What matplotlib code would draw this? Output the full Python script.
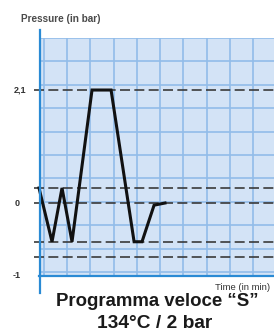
import numpy as np
import matplotlib.pyplot as plt
import matplotlib.transforms as mtransforms
from matplotlib.lines import Line2D

# pressure cycle (time in grid cells, pressure in bar)
time = [0, 0.56, 0.99, 1.42, 2.28, 3.10, 4.09, 4.43, 4.95, 5.42]
pressure = [0.28, -0.72, 0.28, -0.72, 2.1, 2.1, -0.72, -0.72, -0.04, 0.0]

# dashed reference levels
levels = [2.1, 0.28, 0, -0.72, -1.0]
tick_vals = [2.1, 0, -1]
tick_labels = ['2,1', '0', '-1']

W, H = 274, 334
fig = plt.figure(figsize=(W / 100, H / 100), dpi=100)
ax = fig.add_axes([39 / W, 59 / H, 235 / W, 237 / H])
ax.set_facecolor('#d3e3f6')
ax.set_xlim(0, 235 / 23.25)
ax.set_ylim(-1.338, 3.067)
for s in ax.spines.values():
    s.set_visible(False)
ax.set_xticks([])
ax.set_yticks([])

# grid
for x in np.arange(0.215, 10.2, 1.0):
    ax.axvline(x, color='#92bce9', lw=1.2, zorder=1)
for y in 3.067 - 0.435 * np.arange(0, 11):
    ax.axhline(y, color='#92bce9', lw=1.2, zorder=1)

# dashed levels
for lv in levels:
    ax.plot([-0.2, 10.2], [lv, lv], color='#3a3a3a', lw=1.2,
            dashes=(6, 2.6), clip_on=False, zorder=2)

# curve
ax.plot(time, pressure, color='#111111', lw=2.2, zorder=3,
        solid_joinstyle='miter', clip_on=False)

# axis lines
fig.add_artist(Line2D([39.5 / W, 39.5 / W], [1 - 30 / H, 1 - 293 / H],
                      color='#2a8ad4', lw=1.6))
fig.add_artist(Line2D([39 / W, 1], [1 - 275.5 / H, 1 - 275.5 / H],
                      color='#2a8ad4', lw=1.6))

# tick labels
trans = mtransforms.blended_transform_factory(fig.transFigure, ax.transData)
xs = [20.5, 17, 16.5]
offs = [0, 0, -19]
for v, lab, xp, o in zip(tick_vals, tick_labels, xs, offs):
    t = trans + mtransforms.ScaledTranslation(0, o / 100, fig.dpi_scale_trans)
    ax.text(xp / W, v, lab, transform=t, ha='center', va='center',
            fontsize=6.5, fontweight='bold', color='#333333',
            family='Liberation Sans')

fig.text(21 / W, 1 - 19 / H, 'Pressure (in bar)', ha='left', va='center',
         fontsize=7.2, fontweight='bold', color='#4a4a4a', family='Liberation Sans')
fig.text(215 / W, 1 - 288 / H, 'Time (in min)', ha='left', va='center',
         fontsize=6.8, color='#333333', family='Liberation Sans')

fig.text(157.5 / W, 1 - 301 / H, 'Programma veloce \u201cS\u201d', ha='center',
         va='center', fontsize=13.4, fontweight='bold', color='#1a1a1a',
         family='Liberation Sans')
fig.text(155 / W, 1 - 323 / H, '134°C / 2 bar', ha='center',
         va='center', fontsize=13.8, fontweight='bold', color='#1a1a1a',
         family='Liberation Sans')

fig.savefig('out.png', dpi=100)
